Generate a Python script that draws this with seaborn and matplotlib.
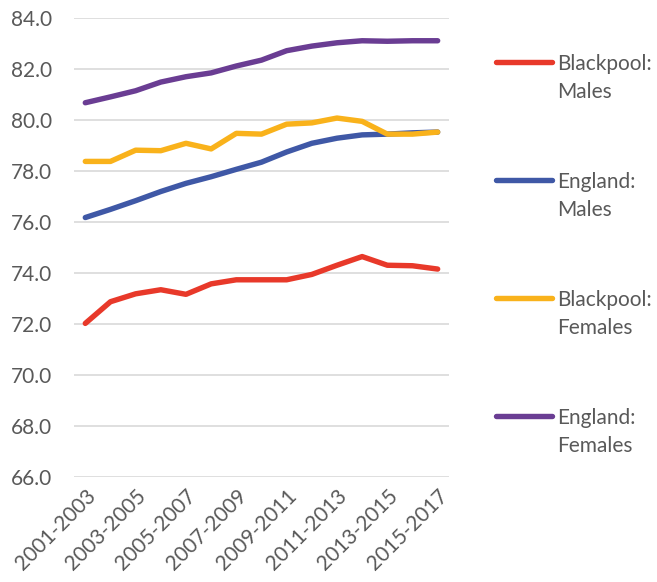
import matplotlib
matplotlib.use("Agg")
import matplotlib.pyplot as plt
import numpy as np
import pandas as pd
import seaborn as sns

# life expectancy at birth, 3-year rolling periods
periods = ['2001-2003', '2002-2004', '2003-2005', '2004-2006', '2005-2007',
           '2006-2008', '2007-2009', '2008-2010', '2009-2011', '2010-2012',
           '2011-2013', '2012-2014', '2013-2015', '2014-2016', '2015-2017']

blackpool_males = [72.03, 72.88, 73.19, 73.35, 73.17, 73.58, 73.74, 73.74,
                   73.74, 73.95, 74.31, 74.65, 74.31, 74.29, 74.16]
england_males = [76.18, 76.50, 76.84, 77.20, 77.52, 77.78, 78.07, 78.35,
                 78.75, 79.09, 79.29, 79.42, 79.45, 79.50, 79.53]
blackpool_females = [78.38, 78.38, 78.82, 78.80, 79.09, 78.87, 79.48, 79.45,
                     79.84, 79.89, 80.08, 79.95, 79.45, 79.45, 79.53]
england_females = [80.68, 80.91, 81.15, 81.49, 81.70, 81.85, 82.12, 82.35,
                   82.72, 82.90, 83.03, 83.11, 83.09, 83.11, 83.11]

series_names = ['Blackpool:\nMales', 'England:\nMales',
                'Blackpool:\nFemales', 'England:\nFemales']
series_values = [blackpool_males, england_males, blackpool_females, england_females]
colors = ['#E8392A', '#3F58A6', '#F9B21B', '#6A3D93']

rows = []
for name, vals in zip(series_names, series_values):
    for i, v in enumerate(vals):
        rows.append({'idx': i, 'period': periods[i], 'value': v, 'series': name})
df = pd.DataFrame(rows)

sns.set_style('white')
plt.rcParams['font.family'] = ['Lato', 'DejaVu Sans']
text_col = '#595959'
fs = 15

fig = plt.figure(figsize=(6.57, 5.82), dpi=100)
ax = fig.add_axes([0.1126, 0.180, 0.5708, 0.789])

sns.lineplot(data=df, x='idx', y='value', hue='series', hue_order=series_names,
             palette=dict(zip(series_names, colors)), linewidth=3.9,
             solid_capstyle='round', ax=ax, legend=False, sort=False)

ax.set_xlim(-0.45, 14.45)
ax.set_ylim(66, 84)
ax.set_yticks(np.arange(66, 84.1, 2))
ax.set_yticklabels([f'{t:.1f}' for t in np.arange(66, 84.1, 2)])
ax.set_xticks(range(0, len(periods), 2))
ax.set_xticklabels(periods[::2], rotation=45, ha='right', va='top',
                   rotation_mode='anchor')
ax.tick_params(axis='y', length=0, pad=16, labelsize=fs, labelcolor=text_col)
ax.tick_params(axis='x', length=0, pad=6, labelsize=fs, labelcolor=text_col)
ax.grid(axis='y', color='#d9d9d9', linewidth=1.2)
ax.set_axisbelow(True)
for s in ax.spines.values():
    s.set_visible(False)
ax.set_xlabel('')
ax.set_ylabel('')

handles = [plt.Line2D([], [], color=c, linewidth=3.9, solid_capstyle='round')
           for c in colors]
leg = fig.legend(handles, series_names, loc='upper left',
                 bbox_to_anchor=(0.755, 0.908), frameon=False,
                 fontsize=fs, labelcolor=text_col, handlelength=2.7,
                 handletextpad=0.25, labelspacing=3.36, borderpad=0,
                 borderaxespad=0)
for t in leg.get_texts():
    t.set_linespacing(1.5)
# put the line level with the first line of each label
for h in leg.legend_handles:
    y = np.asarray(h.get_ydata(), dtype=float)
    h.set_ydata(y + 11.6)

fig.savefig('out.png', dpi=100)
